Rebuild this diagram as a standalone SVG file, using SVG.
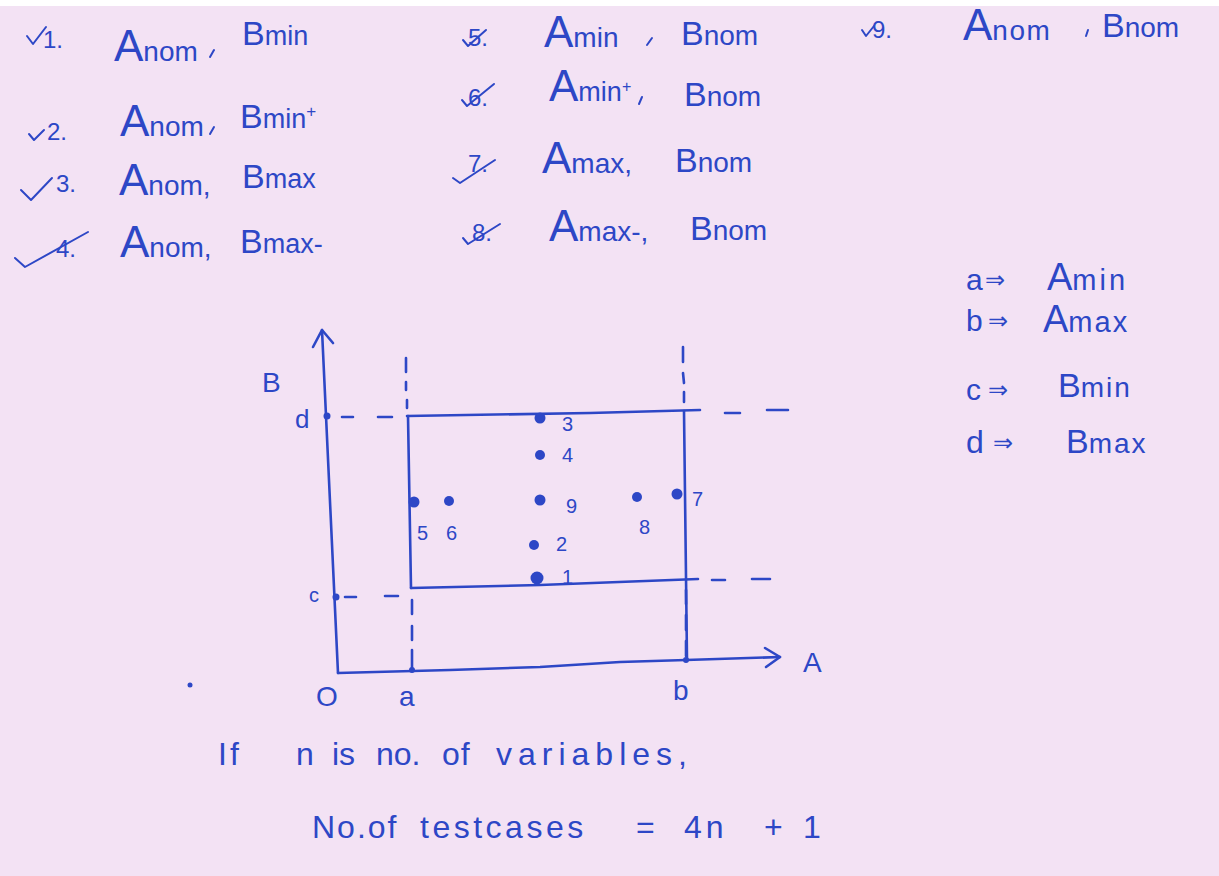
<svg xmlns="http://www.w3.org/2000/svg" width="1219" height="876" viewBox="0 0 1219 876">
<style>
.t{fill:#2d47c6;font-family:"Liberation Sans","DejaVu Sans",sans-serif}
.n{font-size:24px}
.big{font-size:44px}
.sub{font-size:28px}
.bb{font-size:34px}
.sb{font-size:27px}
.lab{font-size:28px}
.pt{font-size:20px}
.ft{font-size:32px}
.ln{stroke:#2d47c6;stroke-width:2.6;fill:none;stroke-linecap:round;stroke-linejoin:round}
.th{stroke-width:2}
.dot{fill:#2d47c6}
</style>
<rect width="1219" height="876" fill="#f3e2f4"/>
<rect width="1219" height="6" fill="#ffffff"/>

<g id="item1">
<path class="ln th" d="M27,36 L33,44 L46,27"/>
<text class="t n" x="43" y="48">1.</text>
<text class="t" x="114" y="61"><tspan class="big">A</tspan><tspan class="sub">nom</tspan></text>
<path class="ln th" d="M214,50 L210,57"/>
<text class="t" x="242" y="45"><tspan class="bb">B</tspan><tspan class="sb">min</tspan></text>
</g>
<g id="item2">
<path class="ln th" d="M29,134 L34,140 L44,130"/>
<text class="t n" x="47" y="140">2.</text>
<text class="t" x="120" y="136"><tspan class="big">A</tspan><tspan class="sub">nom</tspan></text>
<path class="ln th" d="M214,127 L210,134"/>
<text class="t" x="240" y="128"><tspan class="bb">B</tspan><tspan class="sb">min</tspan><tspan font-size="17" dy="-11">+</tspan></text>
</g>
<g id="item3">
<path class="ln th" d="M21,190 L31,200 L52,178"/>
<text class="t n" x="56" y="192">3.</text>
<text class="t" x="119" y="195"><tspan class="big">A</tspan><tspan class="sub">nom,</tspan></text>
<text class="t" x="242" y="188"><tspan class="bb">B</tspan><tspan class="sb">max</tspan></text>
</g>
<g id="item4">
<path class="ln th" d="M15,258 L25,267 L88,232"/>
<text class="t n" x="56" y="257">4.</text>
<text class="t" x="120" y="257"><tspan class="big">A</tspan><tspan class="sub">nom,</tspan></text>
<text class="t" x="240" y="253"><tspan class="bb">B</tspan><tspan class="sb">max-</tspan></text>
</g>

<g id="item5">
<path class="ln th" d="M463,40 L468,46 L486,30"/>
<text class="t n" x="468" y="46">5.</text>
<text class="t" x="544" y="47"><tspan class="big">A</tspan><tspan class="sub">min</tspan></text>
<path class="ln th" d="M652,38 L647,45"/>
<text class="t" x="681" y="45"><tspan class="bb">B</tspan><tspan class="sub">nom</tspan></text>
</g>
<g id="item6">
<path class="ln th" d="M462,100 L467,106 L494,84"/>
<text class="t n" x="468" y="106">6.</text>
<text class="t" x="549" y="101"><tspan class="big">A</tspan><tspan class="sb">min</tspan><tspan font-size="16" dy="-9">+</tspan></text>
<path class="ln th" d="M642,97 L639,104"/>
<text class="t" x="684" y="106"><tspan class="bb">B</tspan><tspan class="sub">nom</tspan></text>
</g>
<g id="item7">
<path class="ln th" d="M453,178 L460,183 L495,160"/>
<text class="t n" x="468" y="172">7.</text>
<text class="t" x="542" y="173"><tspan class="big">A</tspan><tspan class="sub">max,</tspan></text>
<text class="t" x="675" y="172"><tspan class="bb">B</tspan><tspan class="sub">nom</tspan></text>
</g>
<g id="item8">
<path class="ln th" d="M463,238 L468,244 L500,224"/>
<text class="t n" x="472" y="241">8.</text>
<text class="t" x="549" y="241"><tspan class="big">A</tspan><tspan class="sub">max-,</tspan></text>
<text class="t" x="690" y="240"><tspan class="bb">B</tspan><tspan class="sub">nom</tspan></text>
</g>
<g id="item9">
<path class="ln th" d="M862,30 L866,36 L874,26"/>
<text class="t n" x="872" y="38">9.</text>
<text class="t" x="963" y="40"><tspan class="big">A</tspan><tspan class="sub" letter-spacing="1.5">nom</tspan></text>
<path class="ln th" d="M1088,30 L1086,36"/>
<text class="t" x="1102" y="37"><tspan class="bb">B</tspan><tspan class="sub">nom</tspan></text>
</g>

<g id="legend">
<text class="t" font-size="30" x="966" y="290">a</text>
<text class="t" font-size="24" x="985" y="288">⇒</text>
<text class="t" x="1047" y="290"><tspan font-size="38">A</tspan><tspan font-size="29" letter-spacing="3">min</tspan></text>
<text class="t" font-size="30" x="966" y="331">b</text>
<text class="t" font-size="24" x="988" y="329">⇒</text>
<text class="t" x="1043" y="332"><tspan font-size="38">A</tspan><tspan font-size="29" letter-spacing="2">max</tspan></text>
<text class="t" font-size="30" x="966" y="400">c</text>
<text class="t" font-size="24" x="988" y="398">⇒</text>
<text class="t" x="1058" y="397"><tspan class="bb">B</tspan><tspan class="sub" letter-spacing="2">min</tspan></text>
<text class="t" font-size="32" x="966" y="453">d</text>
<text class="t" font-size="24" x="993" y="451">⇒</text>
<text class="t" x="1066" y="453"><tspan class="bb">B</tspan><tspan class="sub" letter-spacing="2">max</tspan></text>
</g>

<g id="connectors">
<path class="ln" d="M338,673 L322,330"/>
<path class="ln" d="M313,347 L322,330 L333,343"/>
<path class="ln" d="M338,673 L450,670 L540,667 L620,662 L686,660 L780,657"/>
<path class="ln" d="M765,648 L780,657 L766,667"/>
<path class="ln" d="M407,416 L590,413 L700,410"/>
<path class="ln" d="M408,416 L411,588"/>
<path class="ln" d="M684,411 L687,660"/>
<path class="ln" d="M411,588 L540,585 L698,579"/>
<path class="ln" d="M342,417 L353,417 M378,417 L392,417"/>
<path class="ln" d="M725,413 L740,413 M767,410 L788,410"/>
<path class="ln" d="M345,597 L356,597 M385,596 L398,596"/>
<path class="ln" d="M712,580 L725,580 M752,579 L770,579"/>
<path class="ln" d="M406,358 L406,372 M406,382 L406,390 M407,400 L407,408"/>
<path class="ln" d="M683,347 L683,362 M683,373 L684,383 M684,392 L684,402"/>
<path class="ln" d="M412,600 L412,614 M412,626 L412,640 M412,650 L412,670"/>
<path class="ln" d="M686,590 L686,604 M686,615 L686,630 M686,641 L686,656"/>
</g>

<g id="axis-labels">
<text class="t lab" x="262" y="392">B</text>
<text class="t" font-size="26" x="295" y="428">d</text>
<text class="t" font-size="20" x="309" y="602">c</text>
<text class="t lab" x="316" y="706">O</text>
<text class="t lab" x="399" y="706">a</text>
<text class="t lab" x="673" y="700">b</text>
<text class="t lab" x="803" y="672">A</text>
<circle class="dot" cx="327" cy="416" r="3.5"/>
<circle class="dot" cx="336" cy="597" r="3.5"/>
<circle class="dot" cx="412" cy="670" r="3"/>
<circle class="dot" cx="686" cy="660" r="3"/>
<circle class="dot" cx="190" cy="685" r="2.5"/>
</g>

<g id="points">
<circle class="dot" cx="540" cy="418" r="5.5"/><text class="t pt" x="562" y="431">3</text>
<circle class="dot" cx="540" cy="455" r="5"/><text class="t pt" x="562" y="462">4</text>
<circle class="dot" cx="540" cy="500" r="5.5"/><text class="t pt" x="566" y="513">9</text>
<circle class="dot" cx="534" cy="545" r="5"/><text class="t pt" x="556" y="551">2</text>
<circle class="dot" cx="537" cy="578" r="6.5"/><text class="t pt" x="562" y="584">1</text>
<circle class="dot" cx="414" cy="502" r="5.5"/><text class="t pt" x="417" y="540">5</text>
<circle class="dot" cx="449" cy="501" r="5"/><text class="t pt" x="446" y="540">6</text>
<circle class="dot" cx="637" cy="497" r="5"/><text class="t pt" x="639" y="534">8</text>
<circle class="dot" cx="677" cy="494" r="5.5"/><text class="t pt" x="692" y="506">7</text>
</g>

<g id="footer">
<text class="t ft" x="218" y="765" letter-spacing="3">If</text>
<text class="t ft" x="296" y="765">n</text>
<text class="t ft" x="332" y="765">is</text>
<text class="t ft" x="376" y="765">no.</text>
<text class="t ft" x="442" y="765" letter-spacing="1">of</text>
<text class="t ft" x="496" y="765" letter-spacing="6">variables,</text>
<text class="t ft" x="312" y="838" letter-spacing="2">No.of</text>
<text class="t ft" x="420" y="838" letter-spacing="3.5">testcases</text>
<text class="t ft" x="636" y="838">=</text>
<text class="t ft" x="684" y="838" letter-spacing="4">4n</text>
<text class="t ft" x="764" y="838">+</text>
<text class="t ft" x="803" y="838">1</text>
</g>
</svg>
